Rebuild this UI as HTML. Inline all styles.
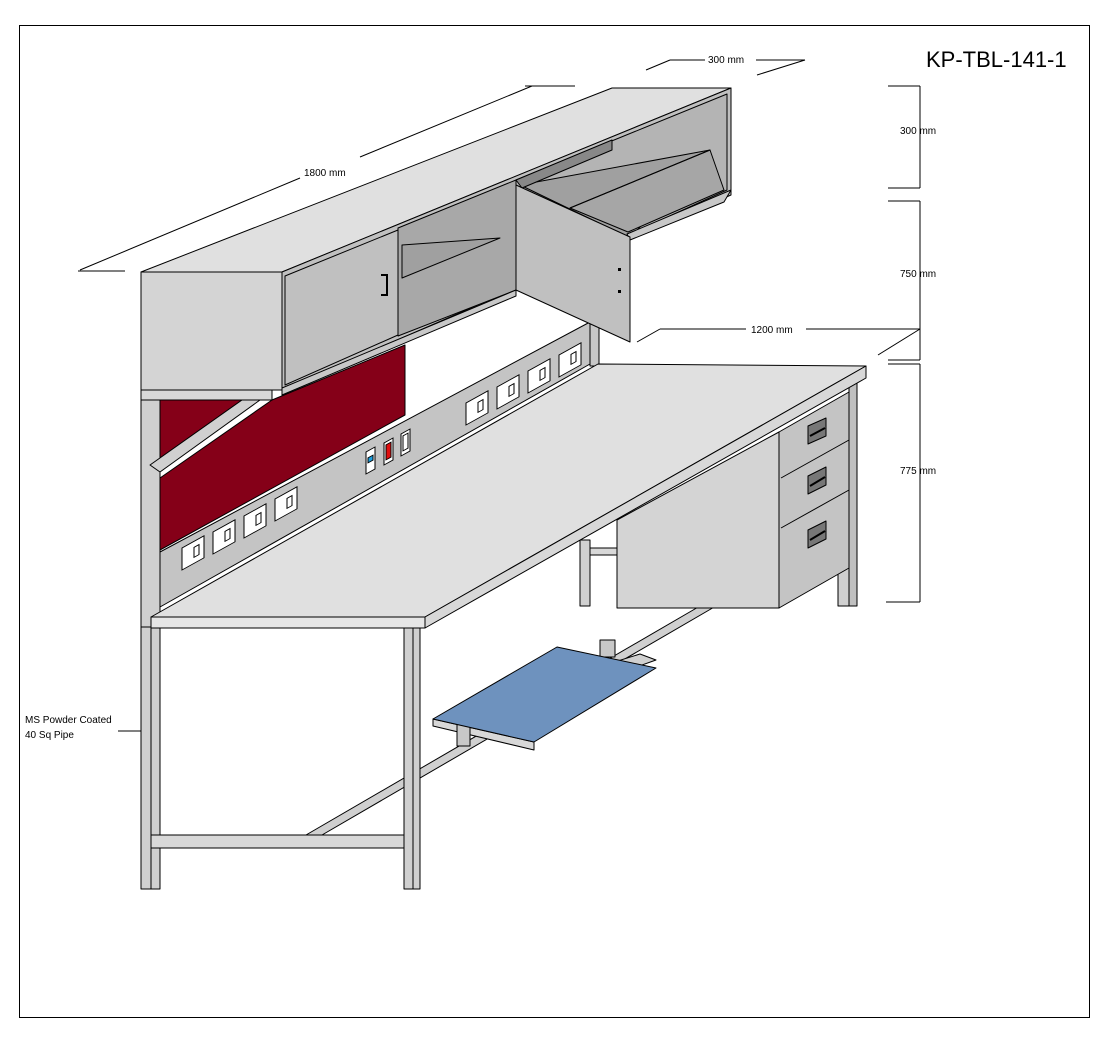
<!DOCTYPE html>
<html><head><meta charset="utf-8"><style>
html,body{margin:0;padding:0;background:#fff;}
svg{display:block;}
text{font-family:"Liberation Sans","DejaVu Sans",sans-serif;fill:#000;}
</style></head><body>
<svg width="1116" height="1049" viewBox="0 0 1116 1049" xmlns="http://www.w3.org/2000/svg">
<rect x="0" y="0" width="1116" height="1049" fill="#fff"/>
<rect x="19.5" y="25.5" width="1070" height="992" fill="none" stroke="#000" stroke-width="1"/>
<text x="926" y="67" font-size="22">KP-TBL-141-1</text>

<g stroke="#000" stroke-width="1" stroke-linejoin="round">
<!-- lower diagonal rail -->
<polygon points="306,835 700,606 716,606 322,835" fill="#d0d0d0"/>
<!-- lower legs / rails -->
<rect x="141" y="627" width="19" height="262" fill="#d0d0d0"/>
<rect x="404" y="627" width="16" height="262" fill="#d0d0d0"/>
<rect x="151" y="835" width="253" height="13" fill="#d8d8d8"/>
<line x1="151" y1="627" x2="151" y2="889"/>
<line x1="413" y1="627" x2="413" y2="889"/>
<!-- tray support rail -->
<polygon points="433,719 640,654 656,660 460,730" fill="#d0d0d0"/>
<polygon points="433,719 433,726 534,750 534,742" fill="#d8d8d8"/>
<rect x="457" y="724" width="13" height="22" fill="#c8c8c8"/>
<rect x="600" y="640" width="15" height="17" fill="#c8c8c8"/>
<!-- keyboard tray -->
<polygon points="433,719 557,647 656,668 534,742" fill="#6e92be"/>

<!-- rear legs right -->
<rect x="580" y="540" width="10" height="66" fill="#d0d0d0"/>
<rect x="590" y="548" width="27" height="7" fill="#d8d8d8"/>
<rect x="838" y="560" width="11" height="46" fill="#d0d0d0"/>
<rect x="849" y="380" width="8" height="226" fill="#c0c0c0"/>

<!-- pedestal -->
<polygon points="617,520 779,432 779,608 617,608" fill="#d4d4d4"/>
<polygon points="779,432 849,392 849,568 779,608" fill="#c4c4c4"/>
<line x1="781" y1="478" x2="849" y2="440"/>
<line x1="781" y1="528" x2="849" y2="490"/>
<polygon points="808,426 826,418 826,436 808,444" fill="#777"/>
<polygon points="808,476 826,467 826,485 808,494" fill="#777"/>
<polygon points="808,530 826,521 826,539 808,548" fill="#777"/>
<line x1="810" y1="436" x2="825" y2="428" stroke="#000" stroke-width="2"/>
<line x1="810" y1="486" x2="825" y2="477" stroke="#000" stroke-width="2"/>
<line x1="810" y1="540" x2="825" y2="531" stroke="#000" stroke-width="2"/>

<!-- upper frame left -->
<rect x="141" y="390" width="19" height="237" fill="#d0d0d0"/>
<rect x="141" y="390" width="131" height="10" fill="#d8d8d8"/>
<!-- red panels -->
<polygon points="160,400 242,400 160,458" fill="#850018"/>
<polygon points="160,478 272,400 405,345 405,415 160,550" fill="#850018"/>
<polygon points="150,465 242,400 260,400 160,472" fill="#d0d0d0"/>
<!-- back upright right -->
<rect x="590" y="322" width="9" height="44" fill="#c8c8c8"/>
<!-- backsplash panel -->
<polygon points="160,552 590,322 590,364 160,607" fill="#c4c4c4"/>

<!-- worktop -->
<polygon points="151,617 598,364 866,366 425,617" fill="#e0e0e0"/>
<polygon points="151,617 425,617 425,628 151,628" fill="#e6e6e6"/>
<polygon points="425,617 866,366 866,378 425,628" fill="#d8d8d8"/>

<!-- top cabinet -->
<polygon points="141,272 612,88 731,88 282,272" fill="#e0e0e0"/>
<rect x="141" y="272" width="141" height="118" fill="#d4d4d4"/>
<polygon points="282,272 731,88 731,195 282,390" fill="#c0c0c0"/>
<polygon points="398,228 516,180 516,290 398,336" fill="#a8a8a8"/>
<polygon points="402,245 500,238 402,278" fill="#a0a0a0"/>
<polygon points="516,180 727,94 727,190 630,234 516,190" fill="#b4b4b4"/>
<polygon points="520,185 710,150 630,238" fill="#a0a0a0"/>
<polygon points="570,208 710,150 724,190 628,232" fill="#a6a6a6"/>
<line x1="570" y1="208" x2="710" y2="150"/>
<polygon points="516,180 612,140 612,150 522,188" fill="#888"/>
<polygon points="627,234 731,190 724,202 630,240" fill="#c8c8c8"/>
<polygon points="285,276 398,230 398,335 285,385" fill="#c0c0c0"/>
<polygon points="516,185 630,237 630,342 516,290" fill="#c0c0c0"/>
<polygon points="282,388 516,290 516,296 282,395" fill="#c8c8c8"/>
</g>
<path d="M381,275 h6 v20 h-6" fill="none" stroke="#000" stroke-width="2"/>
<rect x="618" y="268" width="3" height="3" fill="#000"/>
<rect x="618" y="290" width="3" height="3" fill="#000"/>

<!-- sockets -->
<g stroke="#000" stroke-width="1" fill="#fff">
<g transform="translate(182,548) skewY(-29)"><rect width="22" height="22"/><rect x="12" y="6" width="5" height="10" fill="none"/></g>
<g transform="translate(213,532) skewY(-29)"><rect width="22" height="22"/><rect x="12" y="6" width="5" height="10" fill="none"/></g>
<g transform="translate(244,516) skewY(-29)"><rect width="22" height="22"/><rect x="12" y="6" width="5" height="10" fill="none"/></g>
<g transform="translate(275,499) skewY(-29)"><rect width="22" height="22"/><rect x="12" y="6" width="5" height="10" fill="none"/></g>
<g transform="translate(466,403) skewY(-29)"><rect width="22" height="22"/><rect x="12" y="6" width="5" height="10" fill="none"/></g>
<g transform="translate(497,387) skewY(-29)"><rect width="22" height="22"/><rect x="12" y="6" width="5" height="10" fill="none"/></g>
<g transform="translate(528,371) skewY(-29)"><rect width="22" height="22"/><rect x="12" y="6" width="5" height="10" fill="none"/></g>
<g transform="translate(559,355) skewY(-29)"><rect width="22" height="22"/><rect x="12" y="6" width="5" height="10" fill="none"/></g>
<g transform="translate(366,452) skewY(-29)"><rect width="9" height="22"/><rect x="2" y="7" width="5" height="5" fill="#1a9fe0"/></g>
<g transform="translate(384,443) skewY(-29)"><rect width="9" height="22"/><rect x="2" y="3" width="5" height="15" fill="#e01010"/></g>
<g transform="translate(401,434) skewY(-29)"><rect width="9" height="22"/><rect x="2" y="3" width="5" height="15" fill="#fff"/></g>
</g>

<!-- dimension lines -->
<g stroke="#000" stroke-width="1" fill="none">
<line x1="78" y1="271" x2="125" y2="271"/>
<line x1="80" y1="270" x2="300" y2="178"/>
<line x1="360" y1="157" x2="532" y2="86"/>
<line x1="525" y1="86" x2="575" y2="86"/>
<line x1="646" y1="70" x2="670" y2="60"/>
<line x1="670" y1="60" x2="705" y2="60"/>
<line x1="756" y1="60" x2="805" y2="60"/>
<line x1="805" y1="60" x2="757" y2="75"/>
<line x1="888" y1="86" x2="920" y2="86"/>
<line x1="920" y1="86" x2="920" y2="188"/>
<line x1="888" y1="188" x2="920" y2="188"/>
<line x1="888" y1="201" x2="920" y2="201"/>
<line x1="920" y1="201" x2="920" y2="360"/>
<line x1="888" y1="360" x2="920" y2="360"/>
<line x1="920" y1="329" x2="878" y2="355"/>
<line x1="637" y1="342" x2="660" y2="329"/>
<line x1="660" y1="329" x2="746" y2="329"/>
<line x1="806" y1="329" x2="920" y2="329"/>
<line x1="888" y1="364" x2="920" y2="364"/>
<line x1="920" y1="364" x2="920" y2="602"/>
<line x1="886" y1="602" x2="920" y2="602"/>
<line x1="118" y1="731" x2="141" y2="731"/>
</g>
<g font-size="10">
<text x="304" y="176">1800 mm</text>
<text x="708" y="63">300 mm</text>
<text x="900" y="134">300 mm</text>
<text x="900" y="277">750 mm</text>
<text x="751" y="333">1200 mm</text>
<text x="900" y="474">775 mm</text>
<text x="25" y="723">MS Powder Coated</text>
<text x="25" y="738">40 Sq Pipe</text>
</g>
</svg>
</body></html>
